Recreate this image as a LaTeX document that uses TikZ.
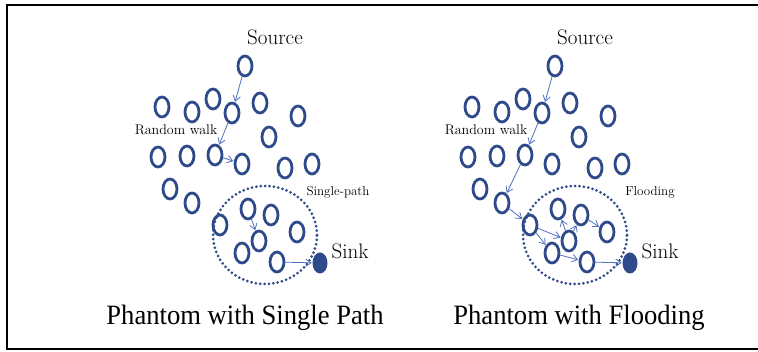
\documentclass[tikz,border=0pt]{standalone}
\usepackage{fontspec}
\newfontfamily\titlefont{Liberation Serif}
\usetikzlibrary{shapes.geometric,arrows.meta}
\definecolor{ring}{HTML}{2F4A8A}
\definecolor{walk}{HTML}{5070C0}
\tikzset{
  sensor/.style={ellipse,draw=ring,line width=2.8pt,minimum width=14pt,minimum height=20pt,inner sep=0pt},
  sinknode/.style={ellipse,fill=ring,minimum width=15pt,minimum height=21pt,inner sep=0pt},
  hop/.style={draw=walk,line width=0.8pt,-{Straight Barb[length=5.5pt,width=7.5pt]},shorten >=0.5pt},
  zone/.style={ellipse,draw=ring,line width=3pt,dash pattern=on 0pt off 4.4pt,line cap=round,minimum width=104pt,minimum height=98pt,inner sep=0pt},
  lbl/.style={inner sep=0pt,font=\fontsize{#1}{#1}\selectfont},
  caption/.style={inner sep=0pt,font=\titlefont\fontsize{28}{28}\selectfont,xscale=0.95}
}
% one network panel; #1 = name prefix
\newcommand\netpanel[1]{
  \node[lbl=21] (#1src) at (275,37) {Source};
  \node[sensor] (#1s) at (245,66) {};
  \node[sensor] (#1n1) at (162,107) {};
  \node[sensor] (#1n2) at (192,112) {};
  \node[sensor] (#1n3) at (213,99) {};
  \node[sensor] (#1n4) at (232,113) {};
  \node[sensor] (#1n5) at (260,103) {};
  \node[sensor] (#1n6) at (298,116) {};
  \node[sensor] (#1n7) at (269,137) {};
  \node[lbl=14] (#1rw) at (176,130) {Random walk};
  \node[sensor] (#1n8) at (158,157) {};
  \node[sensor] (#1n9) at (187,156) {};
  \node[sensor] (#1n10) at (215,155) {};
  \node[sensor] (#1n11) at (242,164) {};
  \node[sensor] (#1n12) at (285,168) {};
  \node[sensor] (#1n13) at (312,164) {};
  \node[sensor] (#1n14) at (170,189) {};
  \node[sensor] (#1n15) at (192,203) {};
  \node[zone] (#1zone) at (265,235) {};
  \node[sensor] (#1a) at (220,225) {};
  \node[sensor] (#1b) at (248,209) {};
  \node[sensor] (#1c) at (271,215) {};
  \node[sensor] (#1d) at (259,241) {};
  \node[sensor] (#1e) at (297,232) {};
  \node[sensor] (#1f) at (242,253) {};
  \node[sensor] (#1g) at (277,262) {};
  \node[sinknode] (#1sink) at (320,263) {};
  \node[lbl=21] (#1sinklbl) at (350,251) {Sink};
  \draw[hop] (#1s) -- (#1n4);
  \draw[hop] (#1n4) -- (#1n10);
  \draw[hop] (#1g) -- (#1sink);
}
\begin{document}
\begin{tikzpicture}[x=1pt,y=-1pt]
\useasboundingbox (0,0) rectangle (758,352);
% frame, open on the right
\draw[line width=2pt] (758,5) -- (7,5) -- (7,349) -- (758,349);
% single path panel
\netpanel{L}
\node[lbl=13] (Lmode) at (338,192) {Single-path};
\draw[hop] (Ln10) -- (Ln11);
\draw[hop] (Lb) -- (Ld);
\node[caption] (Ltitle) at (245,318) {Phantom with Single Path};
% flooding panel
\begin{scope}[shift={(310,0)}]
\netpanel{R}
\node[lbl=13] (Rmode) at (340,192) {Flooding};
\draw[hop] (Rn10) -- (Rn15);
\draw[hop] (Rn15) -- (Ra);
\draw[hop] (Ra) -- (Rd);
\draw[hop] (Ra) -- (Rf);
\draw[hop] (Rd) -- (Rb);
\draw[hop] (Rd) -- (Rc);
\draw[hop] (Rc) -- (Re);
\draw[hop] (Rf) -- (Rg);
\node[caption] (Rtitle) at (269,318) {Phantom with Flooding};
\end{scope}
\end{tikzpicture}
\end{document}
